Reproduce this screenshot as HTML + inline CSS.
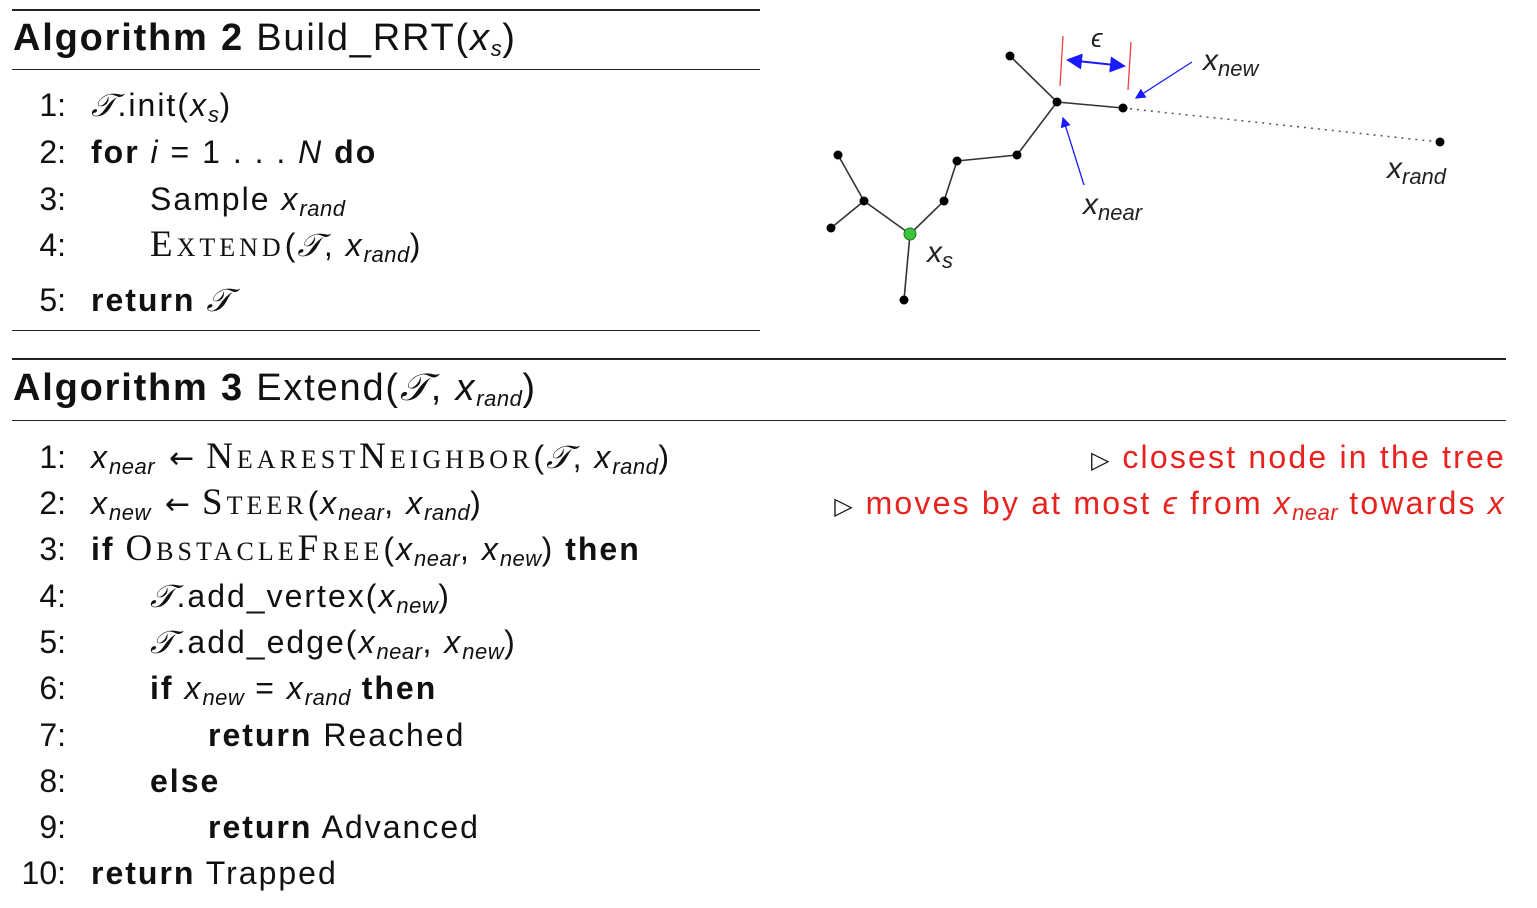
<!DOCTYPE html>
<html><head><meta charset="utf-8">
<style>
body{margin:0;width:1537px;height:908px;background:#fff;position:relative;overflow:hidden;font-family:"Liberation Sans",sans-serif;color:#111}
.ln{position:absolute;font-size:32px;line-height:36px;white-space:nowrap;letter-spacing:2px}
.num{position:absolute;width:52px;text-align:right;left:14px;letter-spacing:0}
.rule{position:absolute;background:#222}
i{font-style:italic}
sub{font-size:22px;font-style:italic;vertical-align:-6px;line-height:0;letter-spacing:0.5px}
.sc{font-family:"Liberation Serif",serif;font-variant:small-caps;font-size:37px;letter-spacing:4px}
.ar{display:inline-block;font-family:"DejaVu Sans",sans-serif;font-size:30px;letter-spacing:0;padding:0 12px 0 14px}
.hd{position:absolute;font-size:38px;line-height:40px;white-space:nowrap;letter-spacing:1.8px}
.cm2{color:#e8231f;letter-spacing:2.2px}
.tri{color:#111;font-size:24px}
</style></head><body>
<div class="rule" style="left:12px;top:9px;width:748px;height:2px"></div>
<div class="hd" style="left:13px;top:18px"><b>Algorithm 2</b> Build_RRT(<i>x</i><sub>s</sub>)</div>
<div class="rule" style="left:12px;top:69px;width:748px;height:1px"></div>
<div>
<div class="ln" style="top:87px;left:0"><span class="num">1:</span><span style="position:absolute;left:91px"><i>𝒯</i>.init(<i>x</i><sub>s</sub>)</span></div>
<div class="ln" style="top:134px;left:0"><span class="num">2:</span><span style="position:absolute;left:91px"><b>for</b> <i>i</i> = 1 . . . <i>N</i> <b>do</b></span></div>
<div class="ln" style="top:181px;left:0"><span class="num">3:</span><span style="position:absolute;left:150px">Sample <i>x</i><sub>rand</sub></span></div>
<div class="ln" style="top:227px;left:0"><span class="num">4:</span><span style="position:absolute;left:150px"><span class="sc">Extend</span>(<i>𝒯</i>, <i>x</i><sub>rand</sub>)</span></div>
<div class="ln" style="top:282px;left:0"><span class="num">5:</span><span style="position:absolute;left:91px"><b>return</b> <i>𝒯</i></span></div>
</div>
<div class="rule" style="left:12px;top:330px;width:748px;height:1px"></div>

<svg style="position:absolute;left:0;top:0" width="1537" height="340">
<defs><marker id="ah" markerWidth="8" markerHeight="8" refX="7" refY="4" orient="auto"><path d="M0,0 L8,4 L0,8 z" fill="#1a1aff"/></marker>
<marker id="ah2" markerWidth="8" markerHeight="8" refX="1" refY="4" orient="auto"><path d="M8,0 L0,4 L8,8 z" fill="#1a1aff"/></marker></defs>
<g stroke="#333" stroke-width="1.6" fill="none">
<path d="M1010,56 L1057,102 L1123,108"/>
<path d="M1057,102 L1017,155 L957,161 L944,201 L910,234"/>
<path d="M838,155 L864,201 L910,234 L904,300"/>
<path d="M864,201 L831,228"/>
</g>
<path d="M1123,108 L1440,142" stroke="#555" stroke-width="1.5" stroke-dasharray="2,5"/>
<g fill="#000">
<circle cx="1010" cy="56" r="4.5"/><circle cx="1057" cy="102" r="4.5"/><circle cx="1123" cy="108" r="4.5"/>
<circle cx="1440" cy="142" r="4.5"/><circle cx="1017" cy="155" r="4.5"/><circle cx="957" cy="161" r="4.5"/>
<circle cx="944" cy="201" r="4.5"/><circle cx="864" cy="201" r="4.5"/><circle cx="838" cy="155" r="4.5"/>
<circle cx="831" cy="228" r="4.5"/><circle cx="904" cy="300" r="4.5"/>
</g>
<circle cx="910" cy="234" r="6" fill="#3ec23e" stroke="#1a7a1a" stroke-width="1"/>
<line x1="1063" y1="36" x2="1060" y2="86" stroke="#f04040" stroke-width="1.3"/>
<line x1="1131" y1="42" x2="1128" y2="90" stroke="#f04040" stroke-width="1.3"/>
<line x1="1068" y1="60" x2="1124" y2="66" stroke="#1a1aff" stroke-width="2" marker-end="url(#ah)" marker-start="url(#ah2)"/>
<line x1="1192" y1="62" x2="1136" y2="98" stroke="#1a1aff" stroke-width="1.3" marker-end="url(#ah)"/>
<line x1="1084" y1="185" x2="1063" y2="118" stroke="#1a1aff" stroke-width="1.3" marker-end="url(#ah)"/>
<g font-family="Liberation Sans, sans-serif" font-style="italic" fill="#222">
<text x="1091" y="47" font-size="26">ϵ</text>
<text x="1203" y="70" font-size="30">x<tspan font-size="22" dy="6">new</tspan></text>
<text x="1387" y="178" font-size="30">x<tspan font-size="22" dy="6">rand</tspan></text>
<text x="1083" y="214" font-size="30">x<tspan font-size="22" dy="6">near</tspan></text>
<text x="927" y="262" font-size="30">x<tspan font-size="22" dy="6">s</tspan></text>
</g>
</svg>

<div class="rule" style="left:12px;top:358px;width:1494px;height:2px"></div>
<div class="hd" style="left:13px;top:368px"><b>Algorithm 3</b> Extend(<i>𝒯</i>, <i>x</i><sub>rand</sub>)</div>
<div class="rule" style="left:12px;top:420px;width:1494px;height:1px"></div>
<div>
<div class="ln" style="top:439px;left:0"><span class="num">1:</span><span style="position:absolute;left:91px"><i>x</i><sub>near</sub><span class="ar">←</span><span class="sc">NearestNeighbor</span>(<i>𝒯</i>, <i>x</i><sub>rand</sub>)</span></div>
<div class="ln" style="top:485px;left:0"><span class="num">2:</span><span style="position:absolute;left:91px"><i>x</i><sub>new</sub><span class="ar">←</span><span class="sc">Steer</span>(<i>x</i><sub>near</sub>, <i>x</i><sub>rand</sub>)</span></div>
<div class="ln" style="top:531px;left:0"><span class="num">3:</span><span style="position:absolute;left:91px"><b>if</b> <span class="sc">ObstacleFree</span>(<i>x</i><sub>near</sub>, <i>x</i><sub>new</sub>) <b>then</b></span></div>
<div class="ln" style="top:578px;left:0"><span class="num">4:</span><span style="position:absolute;left:150px"><i>𝒯</i>.add_vertex(<i>x</i><sub>new</sub>)</span></div>
<div class="ln" style="top:624px;left:0"><span class="num">5:</span><span style="position:absolute;left:150px"><i>𝒯</i>.add_edge(<i>x</i><sub>near</sub>, <i>x</i><sub>new</sub>)</span></div>
<div class="ln" style="top:670px;left:0"><span class="num">6:</span><span style="position:absolute;left:150px"><b>if</b> <i>x</i><sub>new</sub> = <i>x</i><sub>rand</sub> <b>then</b></span></div>
<div class="ln" style="top:717px;left:0"><span class="num">7:</span><span style="position:absolute;left:208px"><b>return</b> Reached</span></div>
<div class="ln" style="top:763px;left:0"><span class="num">8:</span><span style="position:absolute;left:150px"><b>else</b></span></div>
<div class="ln" style="top:809px;left:0"><span class="num">9:</span><span style="position:absolute;left:208px"><b>return</b> Advanced</span></div>
<div class="ln" style="top:855px;left:0"><span class="num">10:</span><span style="position:absolute;left:91px"><b>return</b> Trapped</span></div>
</div>
<div class="ln" style="top:439px;right:31px"><span class="tri">▷</span> <span class="cm2">closest node in the tree</span></div>
<div class="ln" style="top:485px;right:31px"><span class="tri">▷</span> <span class="cm2">moves by at most <i>ϵ</i> from <i>x</i><sub>near</sub> towards <i>x</i></span></div>
</body></html>
